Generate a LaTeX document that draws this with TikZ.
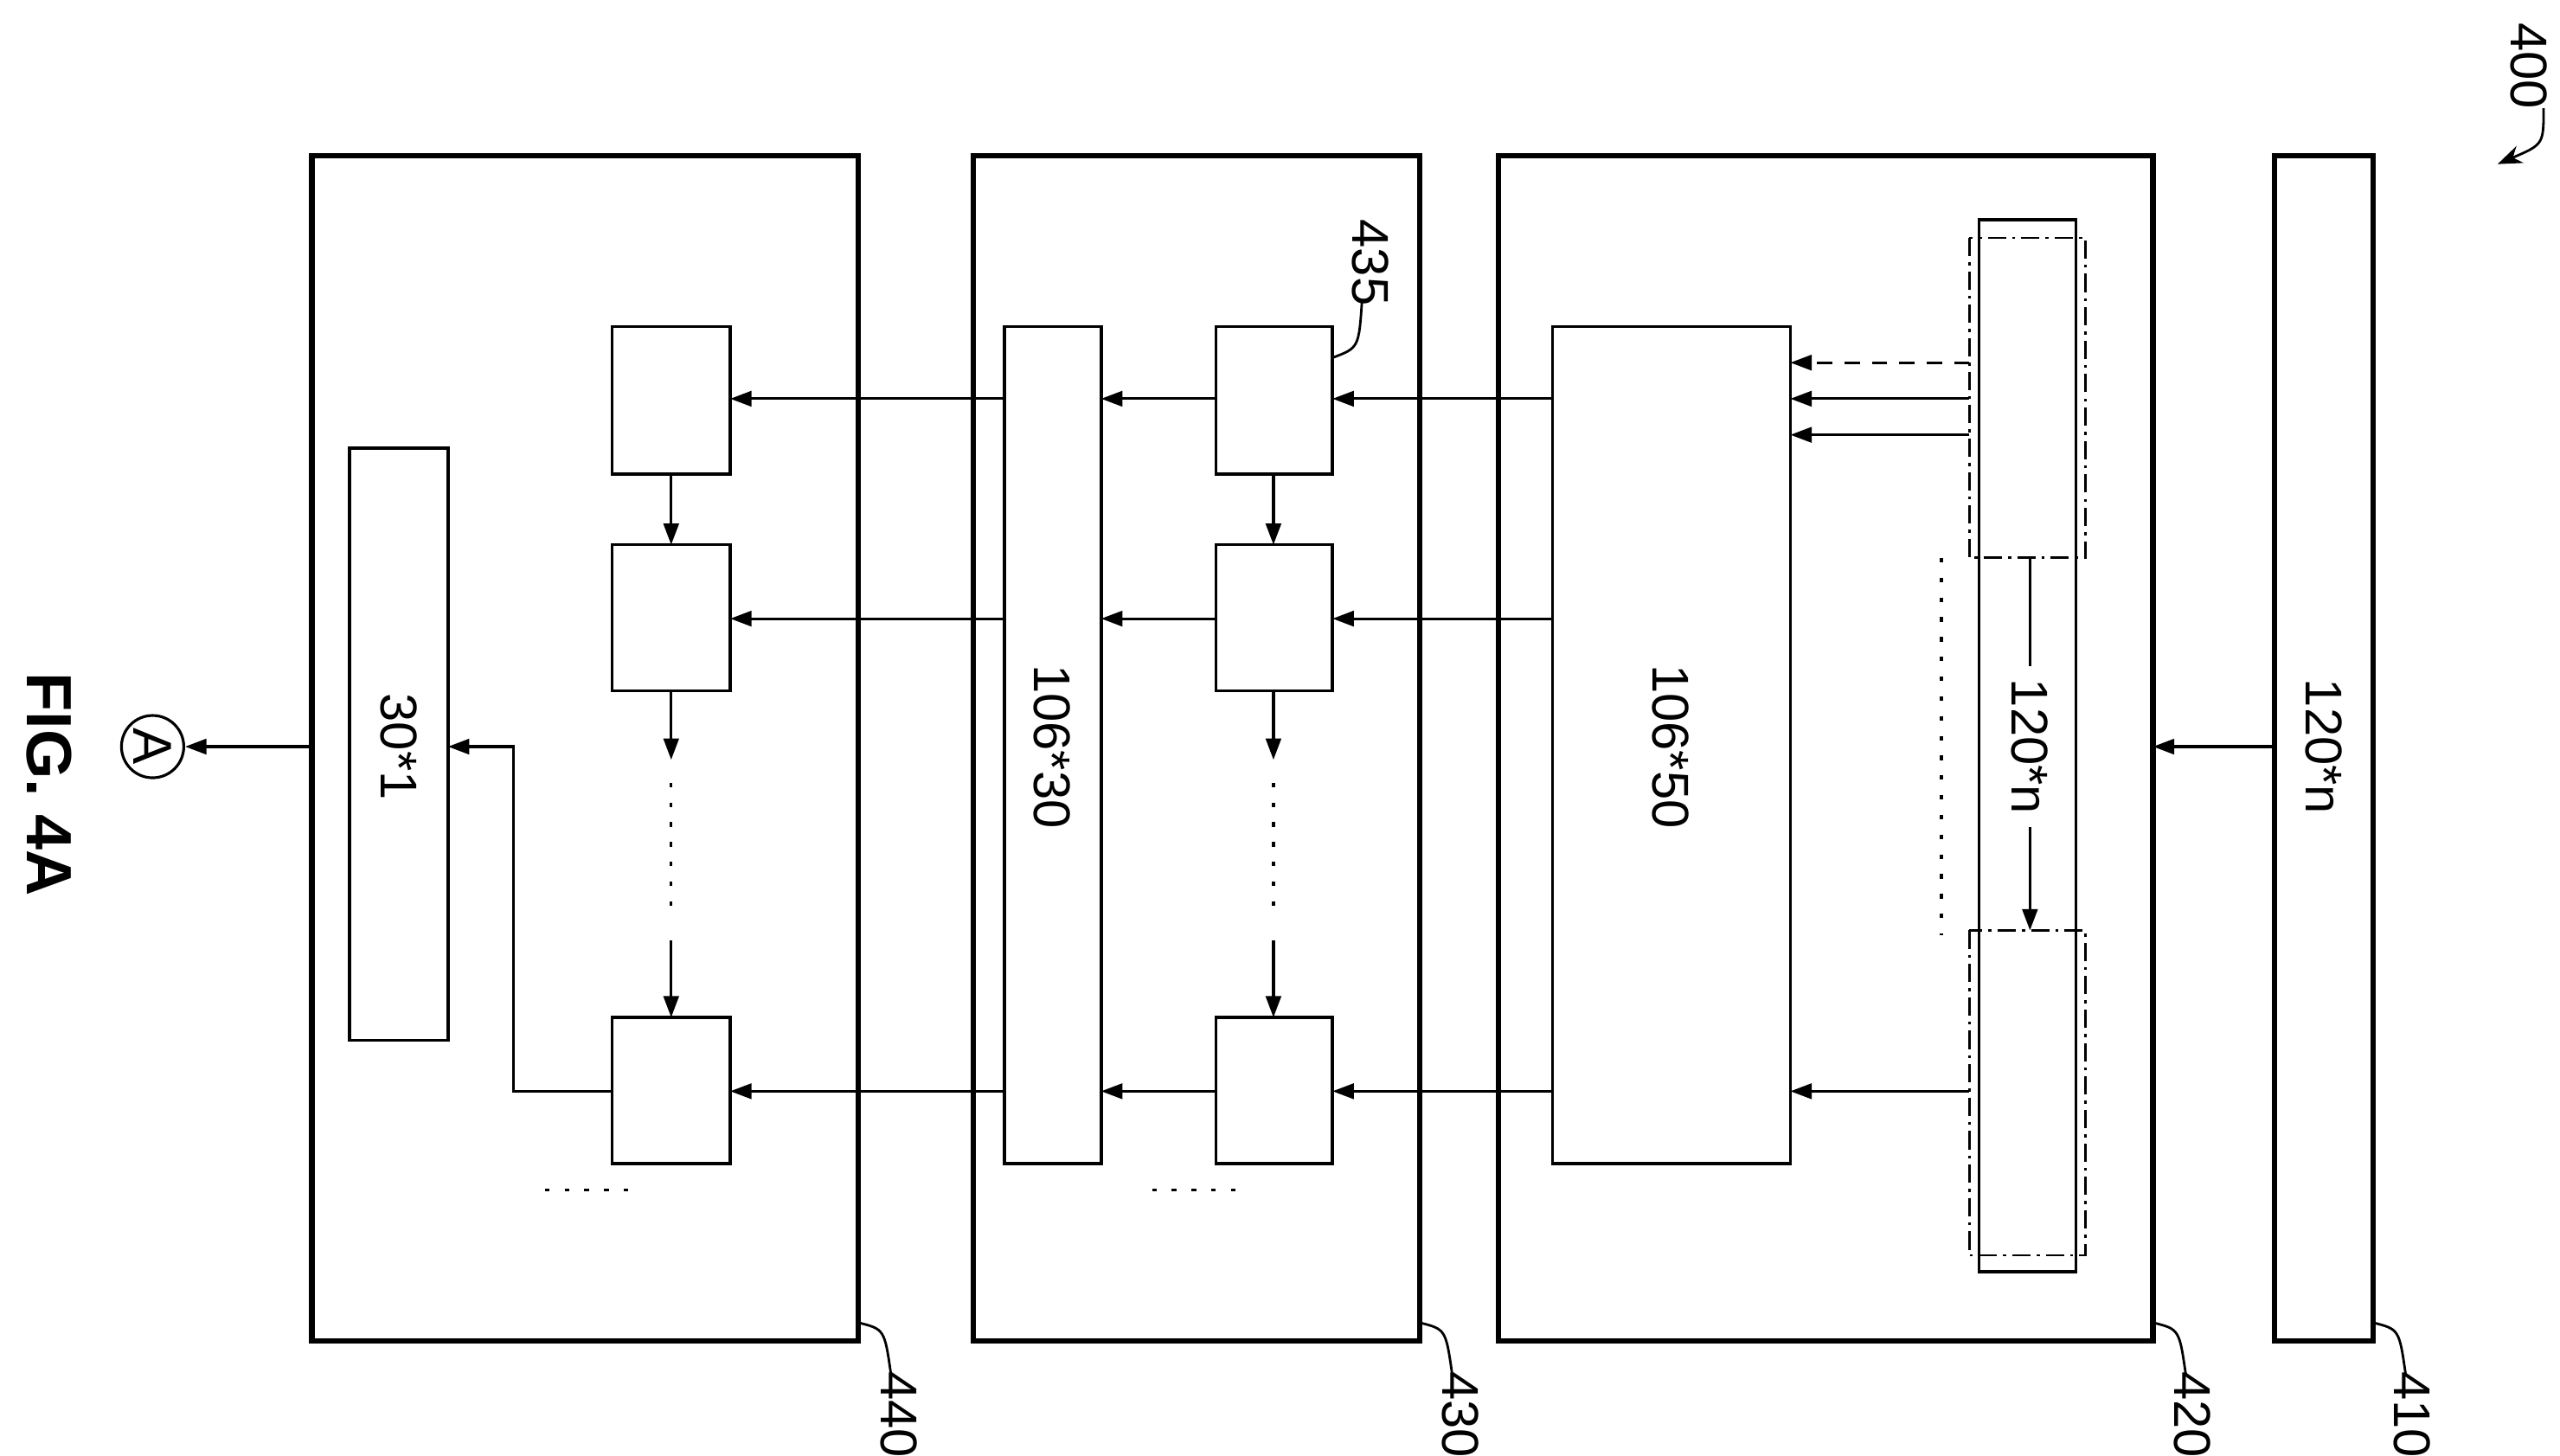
\documentclass[tikz,border=0pt]{standalone}
\usepackage{fontspec}
\setmainfont{Liberation Sans}
\usetikzlibrary{arrows.meta}
\begin{document}
\begin{tikzpicture}[x=0.01897cm,y=-0.01897cm,
  outer/.style={draw,line width=1.8pt},
  inner/.style={draw,line width=1pt},
  arr/.style={line width=0.9pt,-{Triangle[length=7pt,width=5pt]}},
  lbl/.style={font=\fontsize{17}{17}\selectfont,rotate=-90},
  dd/.style={line width=0.8pt,dash pattern=on 6pt off 2pt on 1pt off 2pt},
  dots/.style={line width=0.9pt,dash pattern=on 1.5pt off 5pt}]
\useasboundingbox (0,0) rectangle (1560,887);
% outer boxes
\draw[outer] (1386,95) rectangle (1446,817);
\coordinate (b410w) at (1386,455);
\draw[outer] (913,95) rectangle (1312,817);
\coordinate (b420e) at (1312,455);
\draw[outer] (593,95) rectangle (865,817);
\draw[outer] (190,95) rectangle (523,817);
\coordinate (b440w) at (190,455);
\node[lbl] (t410) at (1416,455) {120*n};
% labels
\node[lbl] (l400) at (1541,40) {400};
\draw[line width=0.8pt,-{Stealth[length=8pt]}] (1550,66) .. controls (1550,88) .. (1522,100);
\node[lbl] (l410) at (1470,862) {410};
\draw[line width=0.8pt] (1446,806) .. controls (1462,810) .. (1466,838);
\node[lbl] (l420) at (1336,862) {420};
\draw[line width=0.8pt] (1312,806) .. controls (1328,810) .. (1332,838);
\node[lbl] (l430) at (890,862) {430};
\draw[line width=0.8pt] (865,806) .. controls (881,810) .. (885,838);
\node[lbl] (l440) at (548,862) {440};
\draw[line width=0.8pt] (523,806) .. controls (539,810) .. (543,838);
\draw[arr] (b410w) -- (b420e);
% 420 contents
\draw[inner] (946,199) rectangle (1091,709);
\node[lbl] (t50) at (1018,455) {106*50};
\draw[inner] (1206,134) rectangle (1265,775);
\draw[dd] (1200,145) rectangle (1271,340);
\draw[dd] (1200,567) rectangle (1271,765);
\draw[line width=0.9pt] (1237,340) -- (1237,406);
\node[lbl] (l120) at (1237,455) {120*n};
\draw[arr] (1237,504) -- (1237,567);
\draw[dots] (1183,340) -- (1183,570);
\draw[arr,dash pattern=on 5pt off 4pt] (1200,221) -- (1091,221);
\draw[arr] (1200,243) -- (1091,243);
\draw[arr] (1200,265) -- (1091,265);
\draw[arr] (1200,665) -- (1091,665);
% 430 contents
\draw[inner] (612,199) rectangle (671,709);
\node[lbl] (t30) at (641,455) {106*30};
\foreach \n/\a/\b in {1/199/289,2/332/421,3/620/709}{
  \draw[inner] (741,\a) rectangle (812,\b);
  \draw[inner] (373,\a) rectangle (445,\b);
}
\node[lbl] (l435) at (835,160) {435};
\draw[line width=0.8pt] (812,218) .. controls (828,212) .. (830,183);
\foreach \y in {243,377,665}{
  \draw[arr] (946,\y) -- (812,\y);
  \draw[arr] (741,\y) -- (671,\y);
  \draw[arr] (612,\y) -- (445,\y);
}
\foreach \x in {776,409}{
  \draw[arr] (\x,289) -- (\x,332);
  \draw[arr] (\x,421) -- (\x,463);
  \draw[dots] (\x,477) -- (\x,558);
  \draw[arr] (\x,573) -- (\x,620);
}
\draw[dots] (702,725) -- (756,725);
\draw[dots] (332,725) -- (386,725);
% 440 contents
\draw[inner] (213,273) rectangle (273,634);
\node[lbl] (t1) at (243,455) {30*1};
\draw[arr] (373,665) -- (313,665) -- (313,455) -- (273,455);
\node[draw,circle,line width=0.9pt,minimum size=0.72cm,inner sep=0,rotate=-90,font=\fontsize{18}{18}\selectfont] (A) at (93,455) {A};
\draw[arr] (b440w) -- (A);
\node[lbl,font=\fontsize{21}{21}\selectfont\bfseries] (fig) at (30,478) {FIG. 4A};
\end{tikzpicture}
\end{document}
